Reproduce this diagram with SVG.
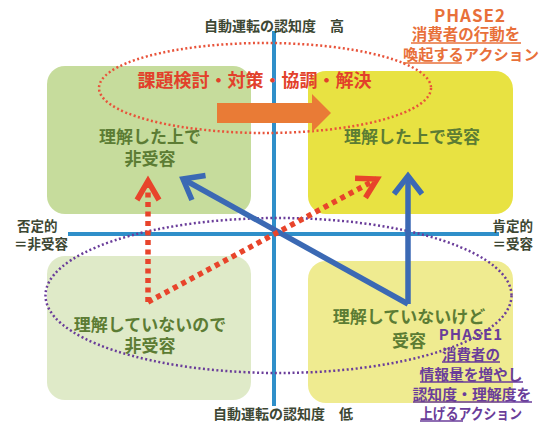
<svg xmlns="http://www.w3.org/2000/svg" width="543" height="423" viewBox="0 0 543 423">
<style>
text{font-family:"Noto Sans CJK JP","Noto Sans",sans-serif;font-weight:700;dominant-baseline:central}
.box{fill:#5c7c34;font-size:17px;text-anchor:middle}
.ax{fill:#3d4733;font-size:13.5px}
.p2{fill:#e8703a;font-size:15px;text-anchor:middle}
.p1{fill:#6a3d9a;font-size:14.5px;text-anchor:middle}
.ph{font-size:17px;letter-spacing:1px}
.ul2{stroke:#e8703a;stroke-width:1.3}
.ul1{stroke:#6a3d9a;stroke-width:1.3}
.blue{stroke:#3b69b4;stroke-width:5.5;fill:none}
.red{stroke:#e8442b;stroke-width:5.5;fill:none;stroke-dasharray:5 4.5}
</style>
<defs>
<marker id="bh" markerUnits="userSpaceOnUse" orient="auto" markerWidth="40" markerHeight="40" viewBox="-30 -20 40 40" refX="0" refY="0" overflow="visible">
<path d="M-18,-14 L0,0 L-18,14" fill="none" stroke="#3b69b4" stroke-width="5.5" stroke-linejoin="miter"/>
</marker>
<marker id="rh" markerUnits="userSpaceOnUse" orient="auto" markerWidth="40" markerHeight="40" viewBox="-30 -20 40 40" refX="0" refY="0" overflow="visible">
<path d="M-19,-11 L0,0 L-19,11" fill="none" stroke="#e8442b" stroke-width="5.5" stroke-linejoin="miter" stroke-dasharray="none"/>
</marker>
</defs>

<g id="q-tl"><rect x="47" y="66" width="204" height="148" rx="18" fill="#c6dc9c"/></g>
<g id="q-tr"><rect x="308" y="71" width="205" height="143" rx="18" fill="#e8e242"/></g>
<g id="q-bl"><rect x="47" y="256" width="204" height="144" rx="18" fill="#dfeac8"/></g>
<g id="q-br"><rect x="308" y="261" width="205" height="142" rx="18" fill="#efeb90"/></g>

<g id="axes">
<line x1="274" y1="31" x2="274" y2="406" stroke="#2f8fc9" stroke-width="4"/>
<line x1="68" y1="234" x2="499" y2="234" stroke="#2f8fc9" stroke-width="4"/>
</g>

<g id="ellipses">
<ellipse cx="265" cy="88" rx="166" ry="45" fill="none" stroke="#e8533a" stroke-width="2.5" stroke-dasharray="2 2.5"/>
<ellipse cx="278.5" cy="295.5" rx="233" ry="77.5" fill="none" stroke="#6a3d9a" stroke-width="2.5" stroke-dasharray="2 2.5"/>
</g>

<g id="connectors">
<polygon points="217,103 312,103 312,94 331,113 312,132 312,123 217,123" fill="#e97b36"/>
<path class="blue" d="M408,304 L183,179" marker-end="url(#bh)"/>
<path class="blue" d="M408,304 L408,176" marker-end="url(#bh)"/>
<path class="red" d="M148,302 L148,181" marker-end="url(#rh)"/>
<path class="red" d="M148,302 L377,179" marker-end="url(#rh)"/>
</g>

<g id="labels">
<text class="ax" x="274" y="25" text-anchor="middle" style="font-size:14px">自動運転の認知度　高</text>
<text class="ax" x="283" y="413" text-anchor="middle" style="font-size:14px">自動運転の認知度　低</text>
<text class="ax" x="17" y="225">否定的</text>
<text class="ax" x="14" y="243">＝非受容</text>
<text class="ax" x="533" y="225" text-anchor="end">肯定的</text>
<text class="ax" x="533" y="243" text-anchor="end">＝受容</text>
</g>

<g id="title"><text x="254.5" y="79" text-anchor="middle" fill="#e2412b" style="font-size:18px">課題検討・対策・協調・解決</text></g>

<g id="node-tl"><text class="box" x="150" y="135">理解した上で</text><text class="box" x="150" y="157">非受容</text></g>
<g id="node-tr"><text class="box" x="412" y="135">理解した上で受容</text></g>
<g id="node-bl"><text class="box" x="150" y="323">理解していないので</text><text class="box" x="150" y="344">非受容</text></g>
<g id="node-br"><text class="box" x="409" y="315">理解していないけど</text><text class="box" x="409" y="339">受容</text></g>

<g id="phase2">
<text class="p2 ph" x="470" y="14">PHASE2</text>
<text class="p2" x="466" y="33" style="font-size:15.5px">消費者の行動を</text>
<line class="ul2" x1="411" y1="43" x2="521" y2="43"/>
<text class="p2" x="471" y="53" textLength="136" lengthAdjust="spacingAndGlyphs">喚起するアクション</text>
<line class="ul2" x1="403" y1="63" x2="462" y2="63"/>
</g>

<g id="phase1">
<text class="p1 ph" x="471" y="333" style="font-size:15px">PHASE1</text>
<text class="p1" x="471" y="353">消費者の</text>
<line class="ul1" x1="442" y1="362" x2="500" y2="362"/>
<text class="p1" x="471" y="373" textLength="103" lengthAdjust="spacingAndGlyphs">情報量を増やし</text>
<line class="ul1" x1="420" y1="382" x2="523" y2="382"/>
<text class="p1" x="472" y="393" textLength="119" lengthAdjust="spacingAndGlyphs">認知度・理解度を</text>
<line class="ul1" x1="413" y1="402" x2="532" y2="402"/>
<text class="p1" x="471" y="412" textLength="102" lengthAdjust="spacingAndGlyphs">上げるアクション</text>
<line class="ul1" x1="420" y1="421" x2="463" y2="421"/>
</g>
</svg>
